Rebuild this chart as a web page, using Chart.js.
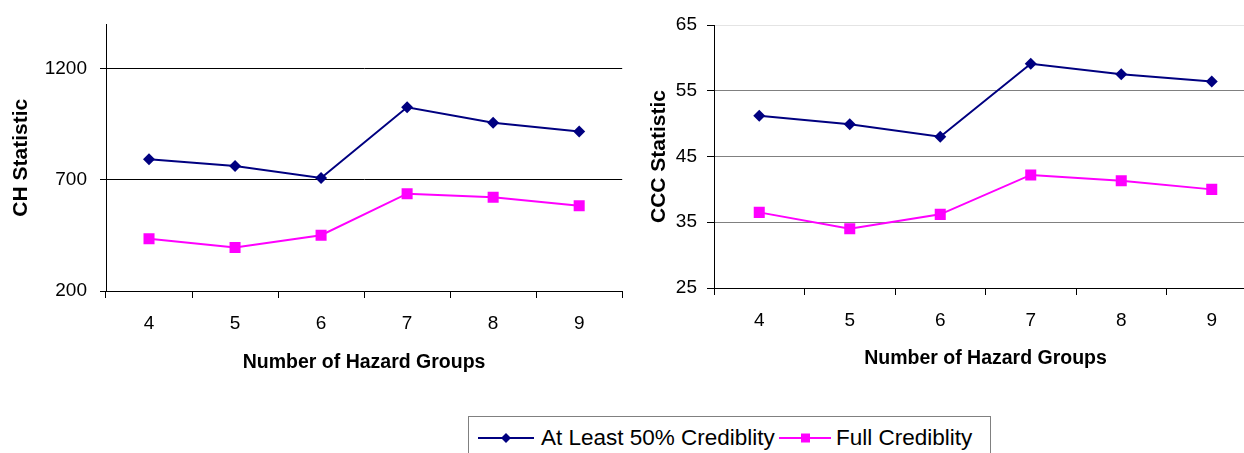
<!DOCTYPE html>
<html>
<head>
<meta charset="utf-8">
<script src="https://cdn.jsdelivr.net/npm/chart.js@4/dist/chart.umd.min.js"></script>
<style>
  html, body { margin: 0; padding: 0; background: #fff; overflow: hidden; }
  #wrap { position: relative; width: 1244px; height: 453px; overflow: hidden; font-family: "Liberation Sans", Arial, sans-serif; }
  #chCanvas { position: absolute; left: 0; top: 0; }
  #cccCanvas { position: absolute; left: 630px; top: 0; }
  #legend { position: absolute; left: 468px; top: 416px; width: 523px; height: 60px; border: 1px solid #808080; box-sizing: border-box; }
  .lg-key { position: absolute; top: 13px; }
  .lg-text { position: absolute; top: 8px; font-size: 22.5px; line-height: 26px; color: #000; white-space: nowrap; }
</style>
</head>
<body>
<div id="wrap">
  <canvas id="chCanvas" width="630" height="400"></canvas>
  <canvas id="cccCanvas" width="640" height="400"></canvas>
  <div id="legend">
    <svg class="lg-key" style="left:9px" width="56" height="16">
      <line x1="0" y1="8" x2="56" y2="8" stroke="#000080" stroke-width="2"/>
      <polygon points="28,3 33,8 28,13 23,8" fill="#000080"/>
    </svg>
    <span class="lg-text" id="lgText0" style="left:72px"></span>
    <svg class="lg-key" style="left:310px" width="52" height="16">
      <line x1="0" y1="8" x2="52" y2="8" stroke="#ff00ff" stroke-width="2"/>
      <rect x="22" y="3.5" width="9" height="9" fill="#ff00ff"/>
    </svg>
    <span class="lg-text" id="lgText1" style="left:367px"></span>
  </div>
</div>
<script>
// data
const hazardGroups = ["4", "5", "6", "7", "8", "9"];
const seriesNames = ["At Least 50% Crediblity", "Full Crediblity"];

const chAtLeast50 = [793, 763, 709, 1027, 957, 918];
const chFull = [435, 396, 451, 638, 622, 584];
const chTicks = [200, 700, 1200];

const cccAtLeast50 = [51.2, 49.9, 48.0, 59.1, 57.5, 56.4];
const cccFull = [36.5, 34.0, 36.2, 42.2, 41.3, 40.0];
const cccTicks = [25, 35, 45, 55, 65];

const FONT = "'Liberation Sans', Arial, sans-serif";
const tickFont = { family: FONT, size: 19 };
const yTitleFont = { family: FONT, size: 21, weight: "bold" };
const xTitleFont = { family: FONT, size: 19.5, weight: "bold" };

document.getElementById("lgText0").textContent = seriesNames[0];
document.getElementById("lgText1").textContent = seriesNames[1];

function makeDatasets(blue, pink) {
  return [
    {
      label: seriesNames[0],
      data: blue,
      borderColor: "#000080",
      backgroundColor: "#000080",
      borderWidth: 2,
      pointStyle: "rectRot",
      pointRadius: 6,
      pointBorderWidth: 0,
      tension: 0,
    },
    {
      label: seriesNames[1],
      data: pink,
      borderColor: "#ff00ff",
      backgroundColor: "#ff00ff",
      borderWidth: 2,
      pointStyle: "rect",
      pointRadius: 7.8,
      pointBorderWidth: 0,
      tension: 0,
    },
  ];
}

// CH statistic chart
new Chart(document.getElementById("chCanvas"), {
  type: "line",
  data: { labels: hazardGroups, datasets: makeDatasets(chAtLeast50, chFull) },
  options: {
    responsive: false,
    animation: false,
    devicePixelRatio: 1,
    layout: { padding: { top: 19, right: 6, left: 0, bottom: 0 } },
    plugins: { legend: { display: false }, tooltip: { enabled: false } },
    scales: {
      x: {
        offset: true,
        afterFit: (s) => { s.height = 400 - 291; },
        border: { color: "#000", width: 1 },
        grid: { offset: true, drawOnChartArea: false, tickLength: 7, color: "#000" },
        ticks: { font: tickFont, color: "#000", padding: 14 },
        title: {
          display: true,
          text: "Number of Hazard Groups",
          font: xTitleFont,
          color: "#000",
          padding: { top: 0, bottom: 26 },
        },
      },
      y: {
        min: 200,
        max: 1400,
        afterBuildTicks: (s) => { s.ticks = chTicks.map((v) => ({ value: v })); },
        afterFit: (s) => { s.width = 106; },
        border: { color: "#000", width: 1 },
        grid: { color: "#000", tickLength: 6 },
        ticks: { font: tickFont, color: "#000", padding: 13, callback: (v) => String(v) },
        title: {
          display: true,
          text: "CH Statistic",
          font: yTitleFont,
          color: "#000",
          padding: { top: 9, bottom: 0 },
        },
      },
    },
  },
});

// CCC statistic chart
new Chart(document.getElementById("cccCanvas"), {
  type: "line",
  data: { labels: hazardGroups, datasets: makeDatasets(cccAtLeast50, cccFull) },
  options: {
    responsive: false,
    animation: false,
    devicePixelRatio: 1,
    layout: { padding: { top: 25, right: 13, left: 0, bottom: 0 } },
    plugins: { legend: { display: false }, tooltip: { enabled: false } },
    scales: {
      x: {
        offset: true,
        afterFit: (s) => { s.height = 400 - 288; },
        border: { color: "#000", width: 1 },
        grid: { offset: true, drawOnChartArea: false, tickLength: 7, color: "#000" },
        ticks: { font: tickFont, color: "#000", padding: 14 },
        title: {
          display: true,
          text: "Number of Hazard Groups",
          font: xTitleFont,
          color: "#000",
          padding: { top: 0, bottom: 30 },
        },
      },
      y: {
        min: 25,
        max: 65,
        afterBuildTicks: (s) => { s.ticks = cccTicks.map((v) => ({ value: v })); },
        afterFit: (s) => { s.width = 84; },
        border: { color: "#000", width: 1 },
        grid: {
          color: (ctx) => (ctx.tick && ctx.tick.value === 65 ? "#e4e4e4" : "#808080"),
          tickColor: "#000",
          tickLength: 7,
        },
        ticks: { font: tickFont, color: "#000", padding: 10, callback: (v) => String(v) },
        title: {
          display: true,
          text: "CCC Statistic",
          font: yTitleFont,
          color: "#000",
          padding: { top: 17, bottom: 0 },
        },
      },
    },
  },
});
</script>
</body>
</html>
